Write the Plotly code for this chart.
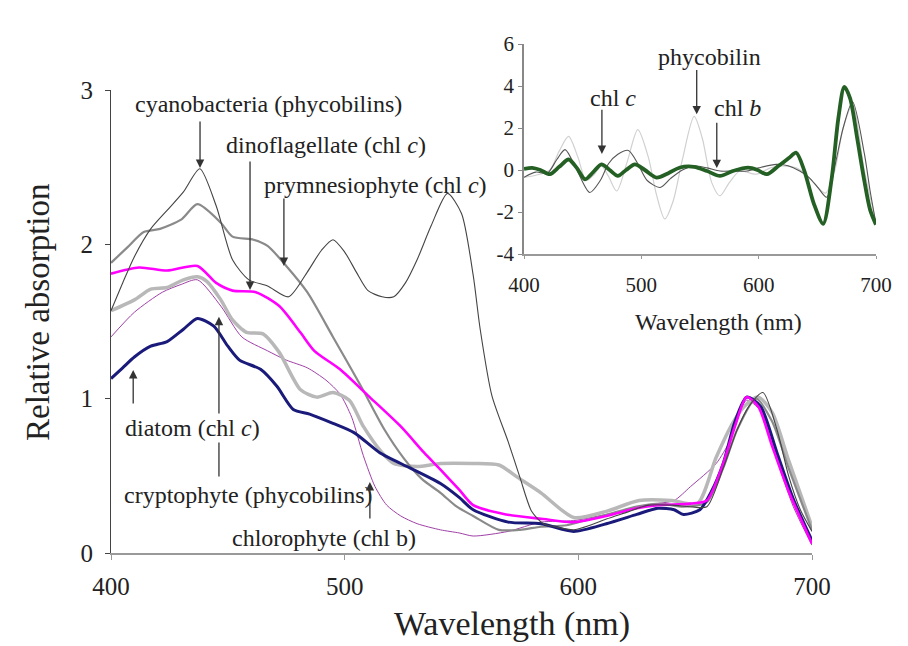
import plotly.graph_objects as go

# ---------------- main chart data ----------------
cyano_wl = [400, 405, 410, 417, 424, 431, 438, 445, 452, 459, 467, 476, 484, 490, 495, 500, 505, 510, 516, 521, 526, 531, 537, 544, 550, 555, 558, 563, 570, 575, 580, 585, 590, 598, 605, 612, 620, 630, 640, 648, 655, 662, 668, 673, 679, 685, 690, 695, 700]
cyano_v = [1.57, 1.75, 1.92, 2.1, 2.22, 2.34, 2.49, 2.25, 1.9, 1.77, 1.73, 1.66, 1.82, 1.96, 2.03, 1.95, 1.82, 1.7, 1.66, 1.66, 1.75, 1.9, 2.12, 2.33, 2.2, 1.8, 1.45, 1.02, 0.72, 0.49, 0.27, 0.19, 0.17, 0.15, 0.18, 0.22, 0.26, 0.31, 0.31, 0.3, 0.3, 0.55, 0.8, 0.95, 1.04, 0.8, 0.5, 0.28, 0.14]

prym_wl = [400, 407, 414, 421, 430, 437, 447, 452, 461, 467, 475, 484, 495, 507, 517, 525, 533, 541, 548, 555, 566, 575, 584, 595, 605, 615, 625, 635, 645, 655, 662, 668, 676, 683, 690, 700]
prym_v = [1.88, 1.98, 2.08, 2.1, 2.16, 2.26, 2.14, 2.05, 2.03, 1.99, 1.86, 1.69, 1.4, 1.08, 0.8, 0.62, 0.48, 0.39, 0.3, 0.24, 0.15, 0.15, 0.17, 0.18, 0.22, 0.26, 0.3, 0.32, 0.3, 0.33, 0.55, 0.8, 1.0, 0.85, 0.55, 0.15]

dino_wl = [400, 412, 424, 437, 445, 452, 462, 472, 481, 487, 498, 510, 524, 534, 541, 549, 555, 569, 585, 598, 612, 625, 634, 648, 655, 662, 667, 672, 677, 683, 690, 700]
dino_v = [1.81, 1.85, 1.83, 1.86, 1.75, 1.7, 1.69, 1.6, 1.43, 1.31, 1.19, 1.02, 0.82, 0.65, 0.54, 0.41, 0.31, 0.25, 0.22, 0.2, 0.24, 0.29, 0.31, 0.32, 0.34, 0.58, 0.82, 1.01, 0.95, 0.69, 0.4, 0.06]

diatom_wl = [400, 405, 410, 417, 424, 431, 437, 444, 450, 455, 464, 471, 478, 485, 495, 504, 515, 524, 541, 549, 555, 570, 584, 598, 612, 625, 634, 641, 645, 652, 657, 662, 667, 672, 678, 685, 692, 700]
diatom_v = [1.13, 1.2, 1.27, 1.34, 1.37, 1.45, 1.52, 1.47, 1.34, 1.25, 1.19, 1.08, 0.93, 0.9, 0.84, 0.78, 0.65, 0.58, 0.45, 0.36, 0.28, 0.2, 0.19, 0.14, 0.19, 0.25, 0.29, 0.28, 0.25, 0.28, 0.4, 0.58, 0.85, 1.01, 0.95, 0.65, 0.35, 0.08]

crypto_wl = [400, 410, 417, 424, 431, 437, 441, 447, 452, 458, 465, 472, 481, 488, 495, 502, 508, 516, 521, 531, 541, 555, 566, 574, 584, 598, 612, 626, 640, 651, 659, 666, 671, 677, 683, 690, 700]
crypto_v = [1.57, 1.64, 1.71, 1.72, 1.77, 1.79, 1.76, 1.64, 1.51, 1.43, 1.42, 1.3, 1.06, 1.01, 1.04, 0.99, 0.82, 0.65, 0.58, 0.56, 0.58, 0.58, 0.57, 0.49, 0.39, 0.23, 0.27, 0.34, 0.34, 0.32, 0.62, 0.84, 0.95, 1.01, 0.91, 0.6, 0.17]

chloro_wl = [400, 410, 422, 430, 437, 447, 456, 467, 475, 484, 492, 498, 503, 508, 513, 518, 524, 531, 541, 549, 555, 570, 584, 598, 612, 625, 634, 641, 648, 659, 665, 672, 678, 685, 692, 700]
chloro_v = [1.4, 1.56, 1.69, 1.74, 1.77, 1.6, 1.4, 1.31, 1.25, 1.2, 1.12, 1.03, 0.88, 0.63, 0.43, 0.31, 0.24, 0.19, 0.15, 0.13, 0.11, 0.14, 0.2, 0.21, 0.25, 0.29, 0.32, 0.34, 0.43, 0.58, 0.73, 0.99, 0.92, 0.6, 0.3, 0.05]

main_xticks = [400, 500, 600, 700]
main_yticks = [0, 1, 2, 3]

# ---------------- inset data ----------------
ins_light_wl = [400, 410, 422, 430, 438, 446, 453, 460, 466, 472, 479, 488, 497, 506, 513, 520, 527, 535, 545, 552, 560, 567, 575, 584, 598, 610, 620, 632, 640, 650, 657, 665, 672, 680, 690, 700]
ins_light_v = [-0.35, -0.25, 0.0, 0.9, 1.6, 0.6, -0.5, -0.2, 0.2, -0.3, -1.0, 0.4, 1.92, 0.6, -1.2, -2.33, -1.5, 0.5, 2.55, 1.5, -0.6, -1.23, -0.6, -0.05, -0.2, 0.1, 0.2, 0.1, -0.2, -0.8, -1.1, 0.0, 2.0, 3.1, 0.0, -2.5]

ins_dark_wl = [400, 410, 420, 428, 435, 445, 456, 465, 472, 480, 489, 497, 505, 516, 525, 535, 545, 556, 567, 578, 590, 600, 615, 625, 635, 643, 650, 658, 665, 672, 680, 690, 695, 700]
ins_dark_v = [-0.35, -0.1, -0.15, 0.5, 0.97, 0.0, -1.07, -0.5, 0.3, 0.75, 0.93, 0.3, -0.5, -0.83, -0.4, 0.0, 0.19, 0.1, -0.05, -0.05, -0.05, 0.1, 0.27, 0.2, -0.05, -0.36, -0.8, -1.3, 0.2, 2.0, 3.25, 0.8, -1.0, -2.56]

ins_green_wl = [400, 407, 414, 422, 430, 438, 445, 452, 459, 466, 473, 480, 487, 494.5, 503, 513, 523, 533, 545, 556, 567, 578, 591, 599, 607, 617, 626, 632, 639, 647, 655, 662, 668, 673, 678, 684, 690, 695, 700]
ins_green_v = [0.05, 0.1, 0.0, -0.2, 0.15, 0.5, 0.1, -0.44, -0.1, 0.27, 0.0, -0.28, 0.0, 0.27, 0.0, -0.36, -0.15, 0.12, 0.15, -0.05, -0.28, -0.05, 0.11, 0.0, -0.2, 0.2, 0.58, 0.82, -0.05, -1.6, -2.56, -0.5, 2.5, 3.96, 3.4, 1.5, -0.5, -1.9, -2.6]

ins_xticks = [400, 500, 600, 700]
ins_yticks = [-4, -2, 0, 2, 4, 6]
ins_yticktext = ["-4", "-2", "0", "2", "4", "6"]

FONT = "Liberation Serif, Times New Roman, Times, serif"
# page body adds an 8px margin; the figure is sized to the visible area
OFF = 8
W, H = 900, 638

def fx(px):
    return (px - OFF) / W

def fy(py):
    return (H - (py - OFF)) / H

fig = go.Figure()

def add(wl, v, color, width, xa="x", ya="y", sm=0.7):
    fig.add_trace(go.Scatter(x=wl, y=v, mode="lines", xaxis=xa, yaxis=ya,
                             line=dict(color=color, width=width, shape="spline", smoothing=sm),
                             showlegend=False, hoverinfo="skip"))

add(chloro_wl, chloro_v, "#a040a8", 1.0)
add(crypto_wl, crypto_v, "#b8b8b8", 3.5)
add(prym_wl, prym_v, "#8a8a8a", 2.2)
add(diatom_wl, diatom_v, "#1a1a7a", 3.0)
add(dino_wl, dino_v, "#ff00ff", 2.6)
add(cyano_wl, cyano_v, "#444444", 1.1)

add(ins_light_wl, ins_light_v, "#d0d0d0", 1.2, "x2", "y2", 0.8)
add(ins_dark_wl, ins_dark_v, "#555555", 1.1, "x2", "y2", 0.8)
add(ins_green_wl, ins_green_v, "#245f24", 3.8, "x2", "y2", 0.8)

ann = []
def txt(x, y, t, size=24, xref="x", yref="y", bg=None, angle=0, yanchor="middle"):
    d = dict(x=x, y=y, xref=xref, yref=yref, text=t, showarrow=False,
             xanchor="center", yanchor=yanchor, textangle=angle,
             font=dict(family=FONT, size=size, color="#222"))
    if bg:
        d["bgcolor"] = bg
    ann.append(d)

def arrow(x0, y0, x1, y1, xref="x", yref="y"):
    ann.append(dict(x=x1, y=y1, ax=x0, ay=y0, xref=xref, yref=yref, axref=xref, ayref=yref,
                    text="", showarrow=True, arrowhead=2, arrowsize=1.3, arrowwidth=1.3,
                    arrowcolor="#333"))

# main annotations
arrow(438.1, 2.806, 438.1, 2.495)
txt(467.2, 2.91, "cyanobacteria (phycobilins)")
arrow(459.5, 2.547, 459.5, 1.704)
txt(491.8, 2.644, "dinoflagellate (chl <i>c</i>)")
arrow(474.0, 2.307, 474.0, 1.86)
txt(513.2, 2.385, "prymnesiophyte (chl <i>c</i>)")
arrow(446.2, 0.486, 446.2, 1.53)
arrow(409.5, 0.959, 409.5, 1.186)
txt(435.0, 0.81, "diatom (chl <i>c</i>)", bg="white")
txt(459.0, 0.376, "cryptophyte (phycobilins)")
arrow(510.8, 0.214, 510.8, 0.46)
txt(491.2, 0.097, "chlorophyte (chl b)")

# inset annotations
arrow(466.4, 2.94, 466.4, 0.76, "x2", "y2")
txt(475.7, 3.41, "chl <i>c</i>", 24, "x2", "y2")
arrow(547.2, 4.83, 547.2, 2.65, "x2", "y2")
txt(557.9, 5.4, "phycobilin", 24, "x2", "y2")
arrow(564.3, 2.32, 564.3, 0.09, "x2", "y2")
txt(582.0, 2.94, "chl <i>b</i>", 24, "x2", "y2")

# axis titles
txt(fx(512), fy(645), "Wavelength (nm)", 34, "paper", "paper", yanchor="bottom")
txt(fx(38), fy(312), "Relative absorption", 33, "paper", "paper", angle=-90)
txt(fx(718), fy(322), "Wavelength (nm)", 24, "paper", "paper")

axis_common = dict(showgrid=False, zeroline=False, showline=True, ticks="outside",
                   tickwidth=1.2, automargin=False)

fig.update_layout(
    width=W, height=H,
    margin=dict(l=0, r=0, t=0, b=0),
    paper_bgcolor="white", plot_bgcolor="rgba(0,0,0,0)",
    showlegend=False,
    annotations=ann,
    xaxis=dict(domain=[fx(111), fx(812)], range=[400, 700], tickvals=main_xticks,
               linecolor="#999", tickcolor="#999", linewidth=1.5, ticklen=5,
               tickfont=dict(family=FONT, size=25, color="#222"),
               ticklabelstandoff=5, anchor="y", **axis_common),
    yaxis=dict(domain=[fy(553), fy(90)], range=[0, 3], tickvals=main_yticks,
               linecolor="#444", tickcolor="#444", linewidth=1.2, ticklen=5,
               tickfont=dict(family=FONT, size=25, color="#222"),
               ticklabelstandoff=7, anchor="x", **axis_common),
    xaxis2=dict(domain=[fx(524), fx(876)], range=[400, 700], tickvals=ins_xticks,
                linecolor="#999", tickcolor="#999", linewidth=1.5, ticklen=3,
                tickfont=dict(family=FONT, size=21, color="#222"),
                ticklabelstandoff=8, anchor="y2", **axis_common),
    yaxis2=dict(domain=[fy(254), fy(44)], range=[-4, 6], tickvals=ins_yticks,
                ticktext=ins_yticktext,
                linecolor="#888", tickcolor="#888", linewidth=1.5, ticklen=4,
                tickfont=dict(family=FONT, size=21, color="#222"),
                ticklabelstandoff=0, anchor="x2", **axis_common),
)

fig.write_html("out.html")
